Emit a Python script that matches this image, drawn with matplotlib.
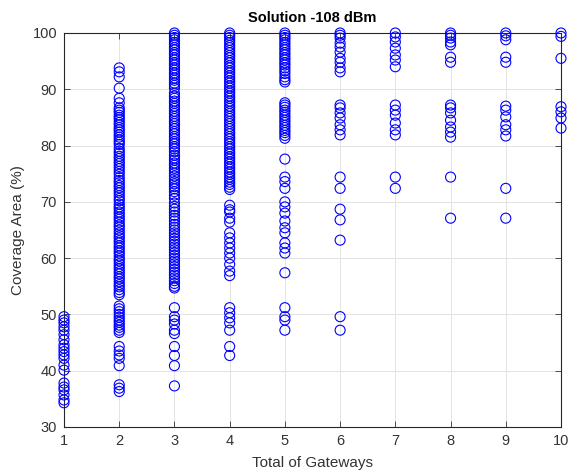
import matplotlib
matplotlib.use("Agg")
import matplotlib.pyplot as plt

plt.rcParams['font.family'] = ['Liberation Sans', 'DejaVu Sans']

gateways = [1, 2, 3, 4, 5, 6, 7, 8, 9, 10]

c1 = [49.6, 49.0, 48.5, 47.8, 47.2, 46.4, 45.5, 44.6, 44.0, 43.4, 42.8, 42.2,
      41.0, 40.1, 37.8, 37.1, 36.6, 35.7, 34.8, 34.3]
c2 = [93.8, 93.1, 92.2, 90.2, 88.4, 87.6,
      86.7, 86.3, 85.9, 85.4, 85.0, 84.6, 84.1, 83.7, 83.2, 82.8, 82.4, 81.9,
      81.5, 81.0, 80.6, 80.2, 79.5, 79.0, 78.6, 78.1, 77.7, 77.2, 76.8, 76.3,
      75.9, 75.4, 74.9, 74.3, 73.8, 73.4, 72.9, 72.5, 72.0, 71.6, 71.1, 70.6,
      70.2, 69.6, 69.1, 68.7, 68.2, 67.8, 67.3, 66.9, 66.4, 65.9, 65.5, 65.0,
      64.5, 64.0, 63.6, 63.1, 62.7, 62.2, 61.8, 61.3, 60.9, 60.4, 59.9, 59.5,
      59.0, 58.5, 58.1, 57.6, 57.2, 56.7, 56.3, 55.8, 55.3, 54.9, 54.4, 53.9,
      53.5, 51.5, 51.0, 50.5, 50.0, 49.5, 49.0, 48.6, 48.1, 47.7, 47.2, 46.8,
      44.3, 43.5, 42.8, 42.2, 40.9, 37.5, 36.9, 36.3]
c3 = [100.0, 99.6, 99.2, 98.8, 98.3, 97.9, 97.4, 97.0, 96.5, 96.1, 95.6, 95.2,
      94.7, 94.3, 93.8, 93.4, 92.9, 92.5, 92.0, 91.6, 91.1, 90.7, 90.2, 89.3,
      88.8, 88.4, 87.9, 87.5, 87.0, 86.6, 86.1, 85.7, 85.2, 84.8, 84.3, 83.9,
      83.4, 83.0, 82.5, 82.1, 81.6, 81.2, 80.7, 80.3, 79.8, 79.4, 78.9, 78.3,
      77.8, 77.4, 76.9, 76.5, 76.0, 75.6, 75.1, 74.6, 74.1, 73.6, 73.2, 72.7,
      72.3, 71.8, 71.2, 70.6, 69.8, 69.2, 68.7, 68.2, 67.6, 67.1, 66.6, 66.0,
      65.5, 65.0, 64.5, 64.0, 63.5, 63.0, 62.5, 62.0, 61.5, 61.0, 60.5, 60.0,
      59.5, 59.0, 58.5, 58.0, 57.5, 57.0, 56.5, 56.0, 55.5, 55.0, 54.7,
      51.2, 49.6, 49.0, 48.3, 47.2, 46.6, 44.3, 42.7, 40.9, 37.3]
c4 = [100.0, 99.6, 99.2, 98.7, 98.3, 97.8, 97.4, 96.9, 96.5, 96.0, 95.6, 95.1,
      94.7, 94.2, 93.8, 93.3, 92.9, 92.4, 92.0, 91.5, 91.1, 90.6, 90.2, 89.7,
      89.3, 88.8, 88.4, 87.9, 87.5, 87.0, 86.6, 86.1, 85.7, 85.2, 84.8, 84.3,
      83.9, 83.4, 83.0, 82.5, 82.1, 81.6, 81.2, 80.7, 80.3, 79.8, 79.4, 78.9,
      78.5, 78.0, 77.6, 77.1, 76.7, 76.2, 75.8, 75.3, 74.9, 74.4, 74.0, 73.5,
      73.1, 72.6, 72.2, 69.4, 68.6, 68.2, 67.1, 66.4, 64.5, 63.6, 62.7, 61.8,
      60.9, 60.0, 58.9, 57.7, 56.9, 51.2, 50.3, 49.4, 48.5, 47.2, 44.3, 42.7]
c5 = [100.0, 99.6, 99.2, 98.8, 98.3, 97.9, 97.4, 97.0, 96.5, 96.1, 95.6, 95.2,
      94.7, 94.3, 93.8, 93.3, 92.8, 92.2, 91.7, 91.3,
      87.6, 87.2, 86.8, 86.3, 85.9, 85.4, 85.0, 84.5, 84.1, 83.6, 83.2, 82.7,
      82.3, 81.8, 81.3,
      77.6, 74.4, 73.6, 72.4, 70.0, 69.1, 68.0, 66.6, 65.4, 64.5, 62.7, 61.8,
      60.9, 57.4, 51.2, 49.6, 49.0, 47.2]
c6 = [100.0, 99.6, 99.1, 98.2, 97.5, 96.6, 95.5, 94.8, 93.8, 93.1, 87.2, 86.7,
      85.8, 84.9, 83.7, 82.8, 81.9, 74.4, 72.4, 68.7, 66.8, 63.2, 49.6, 47.2]
c7 = [100.0, 99.3, 98.4, 97.3, 96.1, 95.2, 94.0, 87.2, 86.3, 85.4, 84.0, 82.8,
      81.9, 74.4, 72.4]
c8 = [100.0, 99.6, 99.1, 98.4, 97.9, 95.7, 94.8, 87.2, 86.7, 85.8, 84.5, 83.3,
      82.4, 81.5, 74.4, 67.1]
c9 = [100.0, 99.5, 98.8, 95.7, 94.8, 87.0, 86.3, 85.1, 83.7, 82.8, 81.7, 72.4,
      67.1]
c10 = [100.0, 99.4, 95.5, 86.9, 86.0, 84.9, 83.1]

coverage = [c1, c2, c3, c4, c5, c6, c7, c8, c9, c10]

fig = plt.figure(figsize=(5.68, 4.75), dpi=100)
ax = fig.add_axes([64 / 568, 48 / 475, 497 / 568, 394 / 475])

for g, vals in zip(gateways, coverage):
    ax.scatter([g] * len(vals), vals, s=52, facecolors='none',
               edgecolors='#0000FF', linewidths=0.8, clip_on=False, zorder=3)

ax.set_xlim(1, 10)
ax.set_ylim(30, 100)
ax.set_xticks(gateways)
ax.set_yticks(range(30, 101, 10))
ax.grid(True, color='#e3e3e3', linewidth=0.7)
ax.set_axisbelow(True)

for sp in ax.spines.values():
    sp.set_color('#262626')
    sp.set_linewidth(0.8)

ax.tick_params(direction='in', top=True, right=True, length=4, width=0.6,
               colors='#333333', labelsize=10.5, pad=5)

ax.set_title('Solution -108 dBm', fontsize=10.5, fontweight='bold', pad=8)
ax.set_xlabel('Total of Gateways', fontsize=11, color='#333333', labelpad=6)
ax.set_ylabel('Coverage Area (%)', fontsize=11, color='#333333', labelpad=5)

fig.savefig('out.png', dpi=100)
